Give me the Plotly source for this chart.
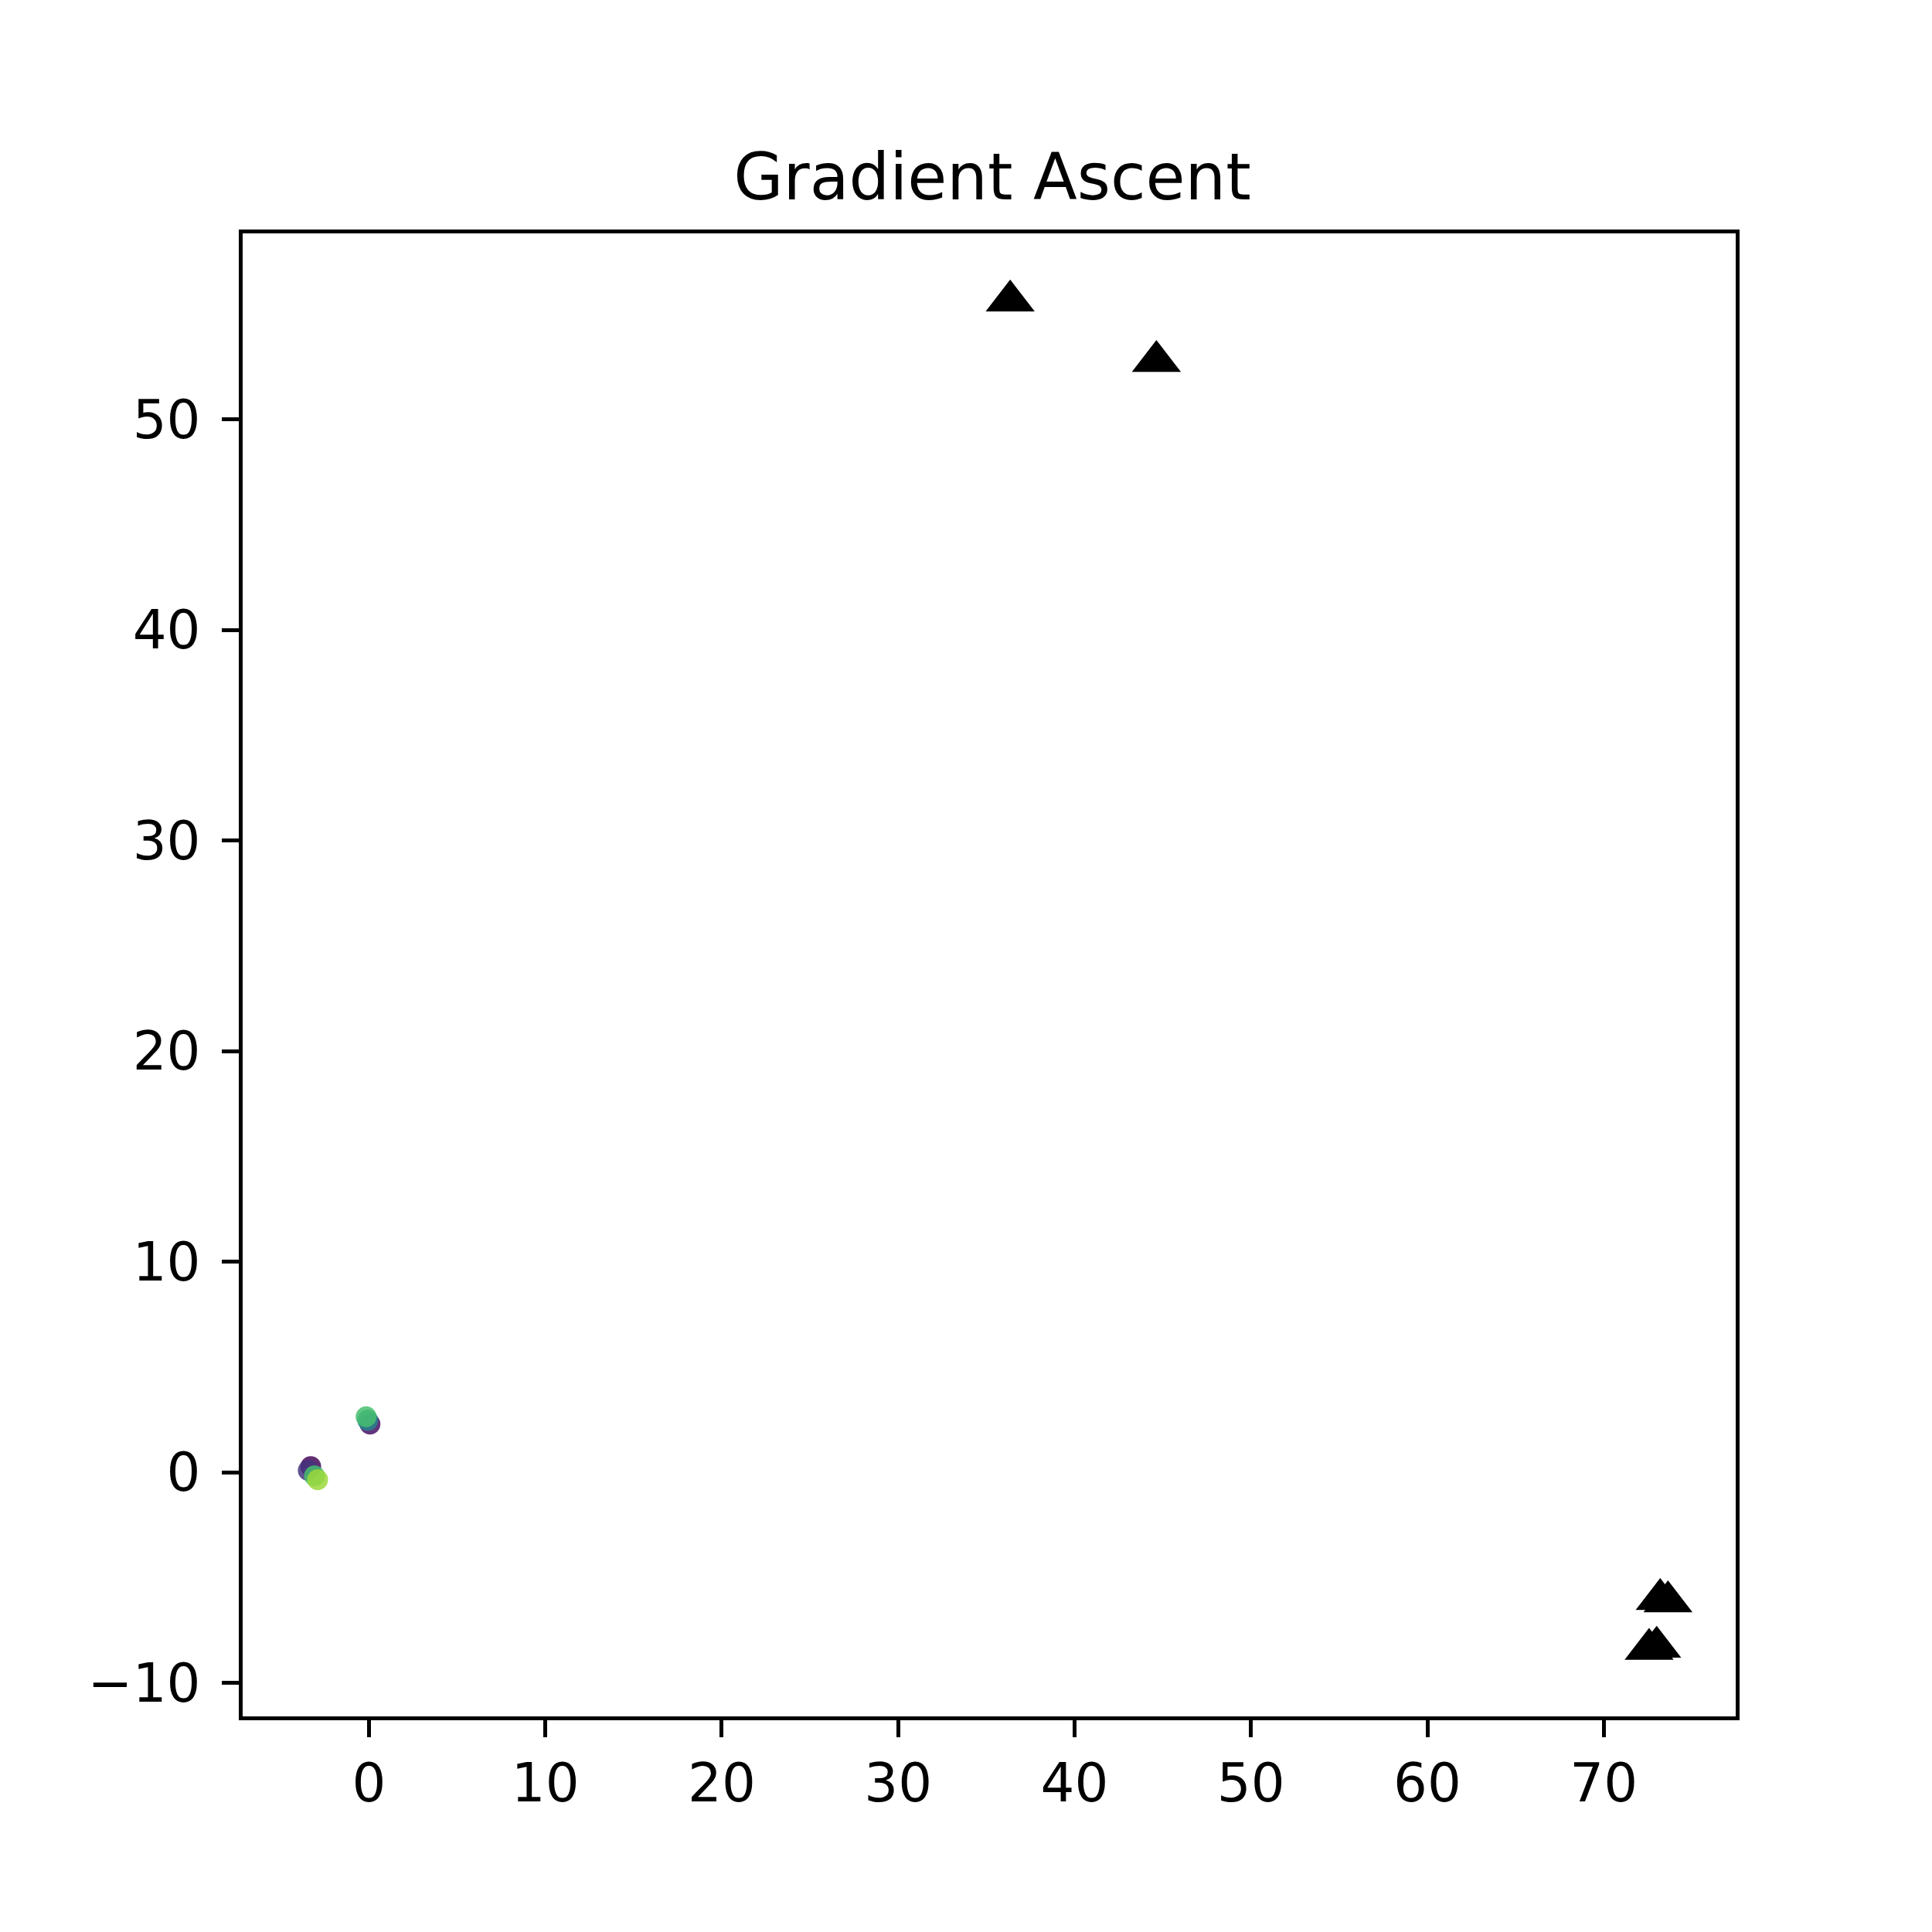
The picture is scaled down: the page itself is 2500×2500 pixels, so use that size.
import plotly.graph_objects as go

# gradient ascent start/end points (coloured by step, viridis)
pts_x = [0.06, -0.07, -0.16, -3.30, -3.44, -3.09, -2.91]
pts_y = [2.29, 2.47, 2.64, 0.27, 0.09, -0.17, -0.35]
pts_c = [0.05, 0.45, 0.70, 0.02, 0.15, 0.70, 0.85]

# targets
tri_x = [36.35, 44.64, 73.20, 73.64, 73.00, 72.57]
tri_y = [55.63, 52.76, -6.03, -6.14, -8.30, -8.40]

font = "DejaVu Sans"

fig = go.Figure()

fig.add_trace(
    go.Scatter(
        x=pts_x,
        y=pts_y,
        mode="markers",
        marker=dict(
            size=27,
            color=pts_c,
            colorscale="Viridis",
            cmin=0,
            cmax=1,
            opacity=0.85,
            line_width=0,
        ),
    )
)

fig.add_trace(
    go.Scatter(
        x=tri_x,
        y=tri_y,
        mode="markers",
        marker=dict(symbol="triangle-up", size=55, color="black", line_width=0),
    )
)

axis_style = dict(
    showgrid=False,
    zeroline=False,
    showline=True,
    linecolor="black",
    linewidth=4.5,
    mirror=True,
    ticks="outside",
    ticklen=22,
    tickwidth=4.5,
    tickcolor="black",
    tickfont=dict(family=font, size=69, color="black"),
)

fig.update_layout(
    width=2500,
    height=2500,
    showlegend=False,
    plot_bgcolor="white",
    paper_bgcolor="white",
    margin=dict(l=306, r=262, t=294, b=287),
    title=dict(
        text="Gradient Ascent",
        font=dict(family=font, size=83, color="black"),
        x=0.5104,
        xanchor="center",
        y=0.9,
        yanchor="bottom",
        yref="container",
    ),
    xaxis=dict(range=[-7.16, 77.48], tickmode="linear", tick0=0, dtick=10, **axis_style),
    yaxis=dict(range=[-11.59, 58.83], tickmode="linear", tick0=0, dtick=10,
               ticklabelstandoff=14, **axis_style),
)

fig.write_html("out.html")
